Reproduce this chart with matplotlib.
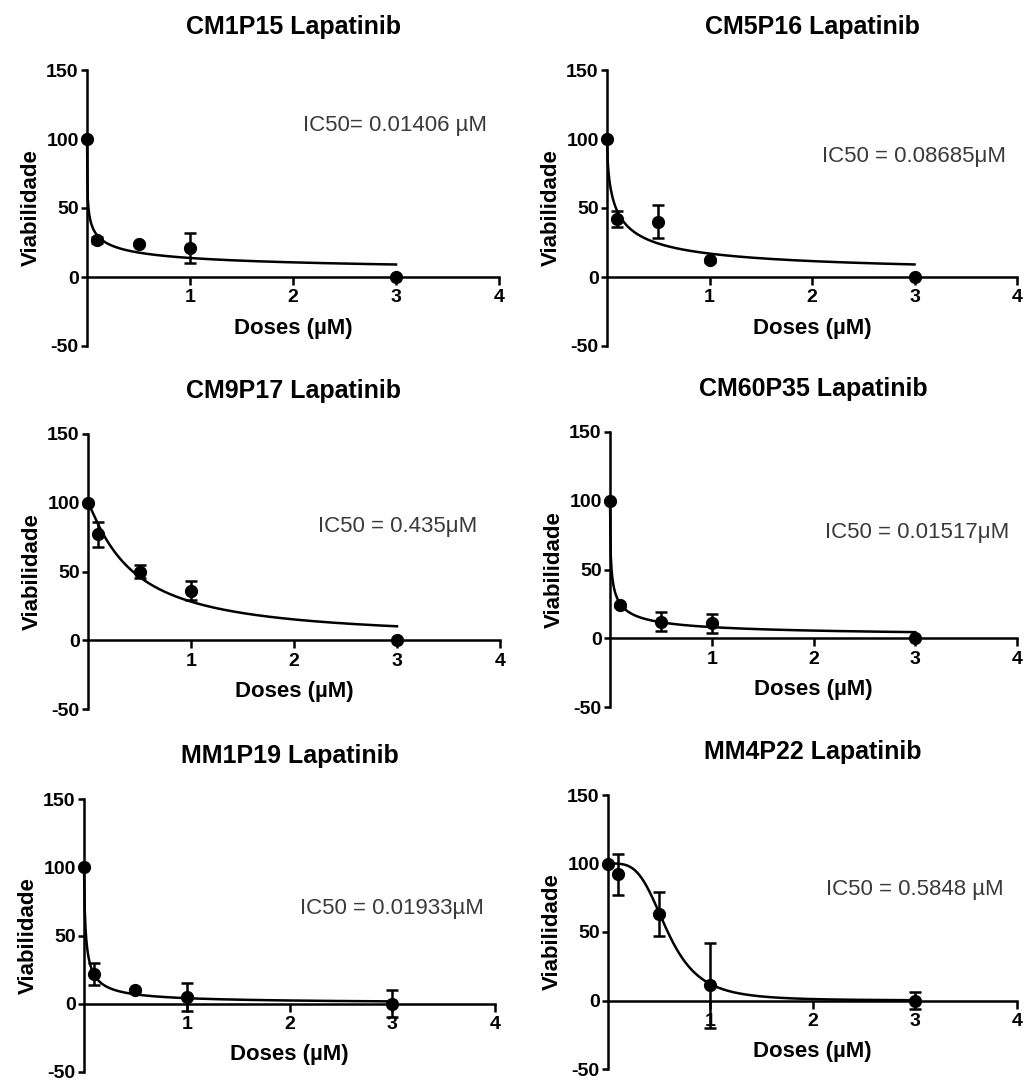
import numpy as np
from matplotlib import pyplot as plt

plt.rcParams['font.family'] = ['Liberation Sans', 'DejaVu Sans']
plt.rcParams['axes.unicode_minus'] = False

doses = [0, 0.1, 0.5, 1, 3]

titles = ["CM1P15 Lapatinib", "CM5P16 Lapatinib", "CM9P17 Lapatinib",
          "CM60P35 Lapatinib", "MM1P19 Lapatinib", "MM4P22 Lapatinib"]

viab_cm1p15 = [100, 27, 24, 21, 0]
viab_cm5p16 = [100, 42, 40, 12, 0]
viab_cm9p17 = [100, 77, 50, 36, 0]
viab_cm60p35 = [100, 24, 12, 11, 0]
viab_mm1p19 = [100, 22, 10, 5, 0]
viab_mm4p22 = [100, 92, 63, 11, 0]

err_cm1p15 = [0, 2, 1, 11, 0]
err_cm5p16 = [0, 6, 12, 1, 0]
err_cm9p17 = [0, 9, 5, 7, 0]
err_cm60p35 = [0, 1, 7, 7, 0]
err_mm1p19 = [0, 8, 1, 10, 10]
err_mm4p22 = [0, 15, 16, 31, 6]

# fitted dose-response parameters (IC50 from the labels, hill slope estimated)
ic50 = [0.01406, 0.08685, 0.435, 0.01517, 0.01933, 0.5848]
hill = [0.43, 0.65, 1.13, 0.58, 0.80, 3.7]
ic50_labels = ["IC50= 0.01406 µM", "IC50 = 0.08685μM", "IC50 = 0.435μM",
               "IC50 = 0.01517μM", "IC50 = 0.01933µM", "IC50 = 0.5848 µM"]
label_xy = [(2.10, 110), (2.10, 87), (2.23, 83), (2.11, 77), (2.10, 70), (2.13, 81)]

viabs = [viab_cm1p15, viab_cm5p16, viab_cm9p17, viab_cm60p35, viab_mm1p19, viab_mm4p22]
errs = [err_cm1p15, err_cm5p16, err_cm9p17, err_cm60p35, err_mm1p19, err_mm4p22]

# axes boxes in pixels: left, right, top, bottom
boxes = [(87, 499, 70, 346), (607, 1017, 70, 346),
         (88, 500, 434, 709), (610, 1017, 432, 707),
         (84, 495, 799, 1072), (608, 1017, 795, 1069)]

W, H = 1025, 1081
fig = plt.figure(figsize=(W / 100, H / 100), dpi=100)

for i in range(6):
    l, r, t, b = boxes[i]
    ax = fig.add_axes([l / W, 1 - b / H, (r - l) / W, (b - t) / H])

    xs = np.linspace(0, 3, 400)
    curve = 100 / (1 + (xs / ic50[i]) ** hill[i])
    ax.plot(xs, curve, color="black", lw=1.8, clip_on=False)
    ax.errorbar(doses, viabs[i], yerr=errs[i], fmt="o", color="black",
                markersize=8.5, capsize=4, elinewidth=1.8, capthick=1.8,
                clip_on=False, zorder=3)

    ax.text(label_xy[i][0], label_xy[i][1], ic50_labels[i], fontsize=16,
            color="#3a3a3a", va="center", ha="left")

    ax.set_xlim(0, 4)
    ax.set_ylim(-50, 150)
    ax.set_xticks([1, 2, 3, 4])
    ax.set_yticks([-50, 0, 50, 100, 150])
    ax.spines["bottom"].set_position(("data", 0))
    ax.spines["left"].set_position(("data", 0))
    ax.spines["top"].set_visible(False)
    ax.spines["right"].set_visible(False)
    for s in ["bottom", "left"]:
        ax.spines[s].set_linewidth(1.8)
    ax.tick_params(axis="x", direction="out", length=6, width=1.8,
                   labelsize=14, pad=3)
    ax.tick_params(axis="y", direction="out", length=4, width=1.8,
                   labelsize=14, pad=2)
    for lab in ax.get_xticklabels() + ax.get_yticklabels():
        lab.set_fontweight("bold")

    ax.set_xlabel("Doses (µM)", fontsize=16, fontweight="bold", labelpad=8)
    ax.set_ylabel("Viabilidade", fontsize=16, fontweight="bold", labelpad=3)
    ax.set_title(titles[i], fontsize=18, fontweight="bold", pad=26)

fig.savefig("out.png", dpi=100)
